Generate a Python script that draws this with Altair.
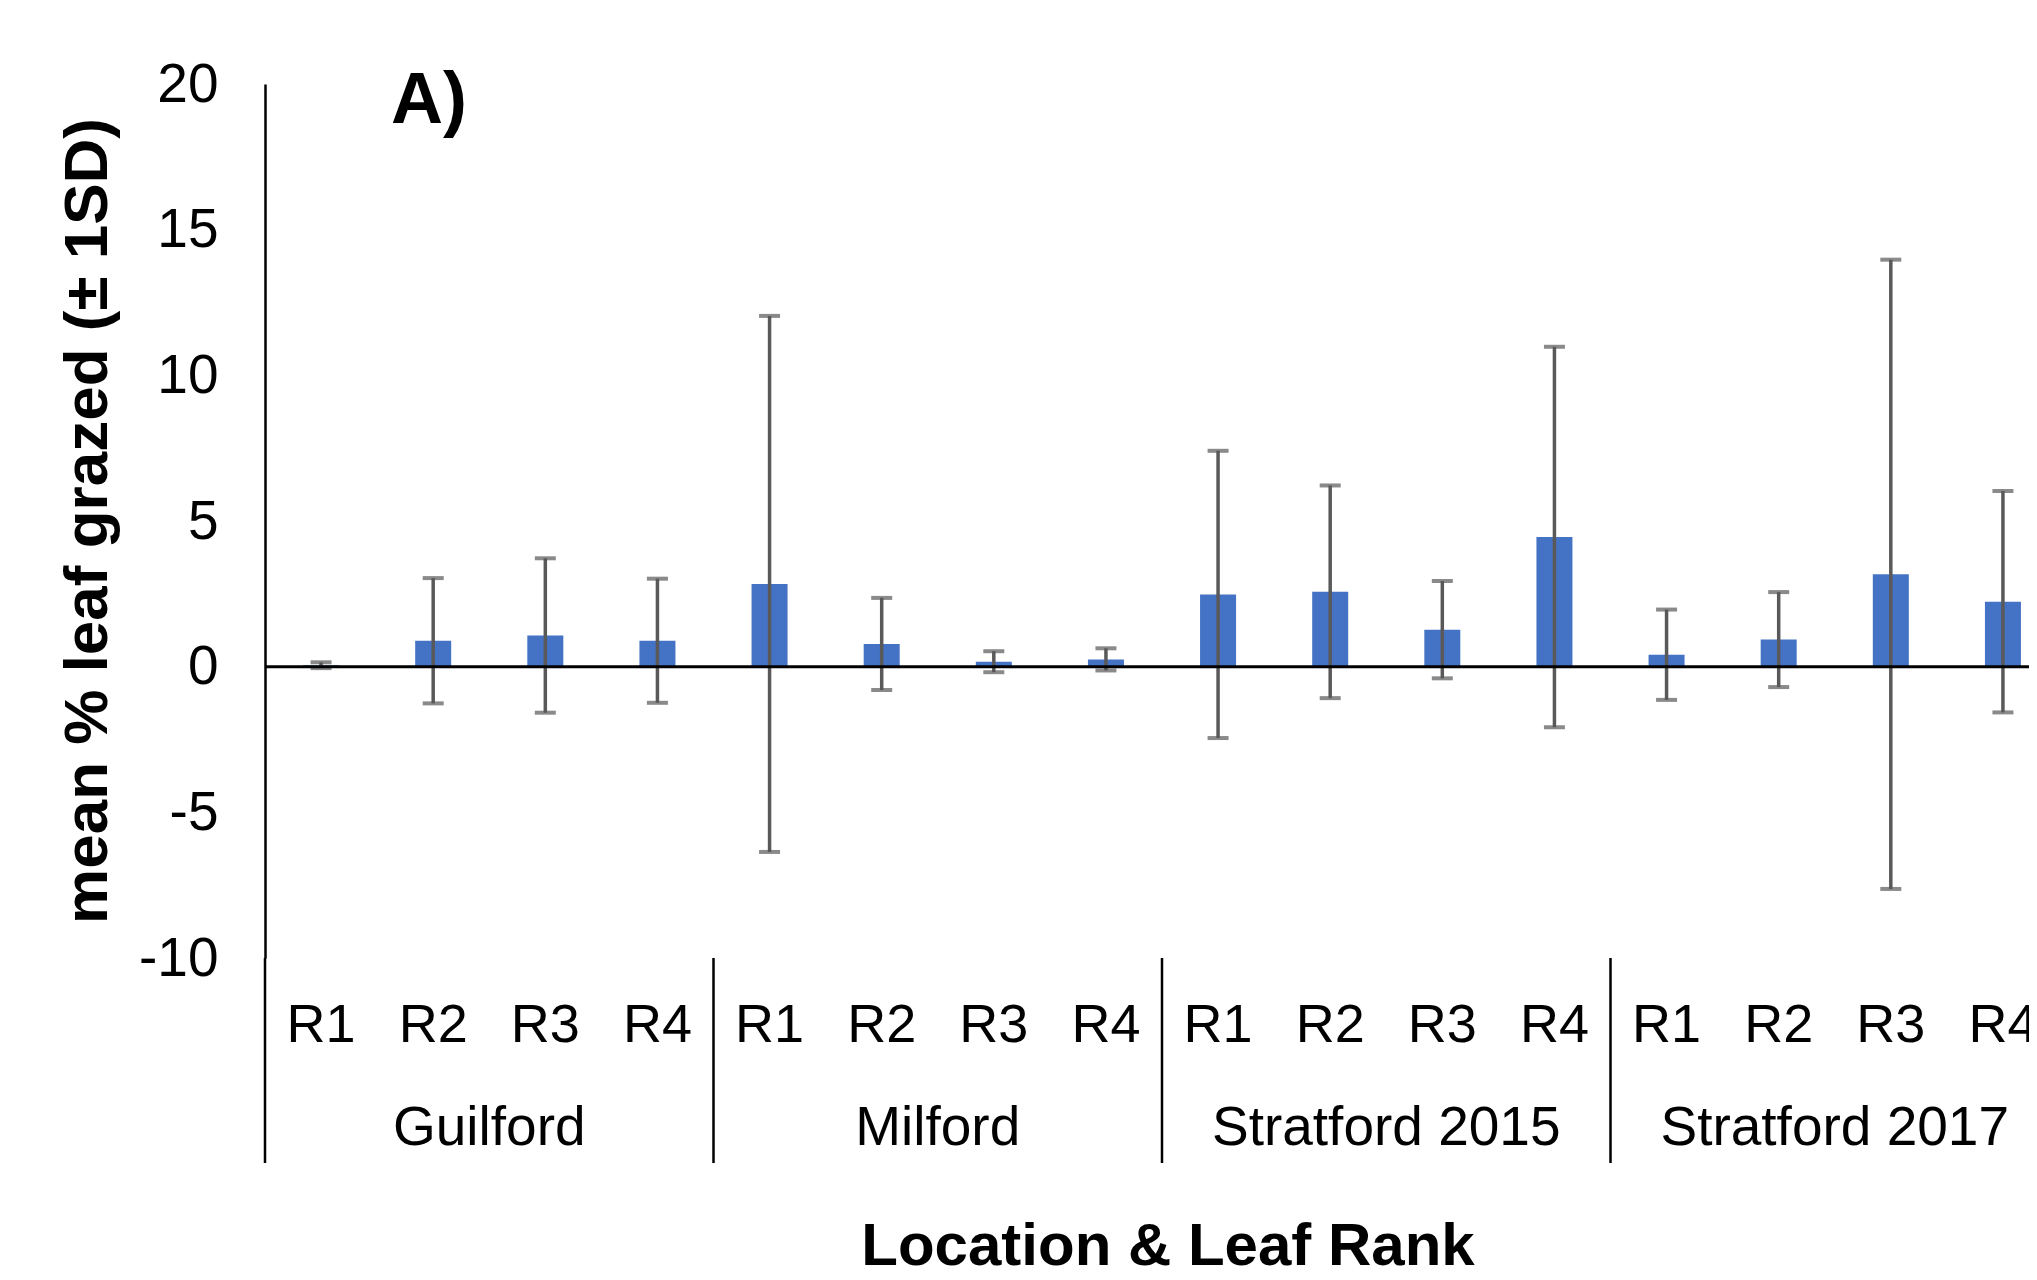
import altair as alt
import pandas as pd

locations = ["Guilford", "Milford", "Stratford 2015", "Stratford 2017"]
ranks = ["R1", "R2", "R3", "R4"]
mean_grazed = [0.05, 0.89, 1.07, 0.89,
               2.84, 0.78, 0.17, 0.25,
               2.48, 2.57, 1.27, 4.45,
               0.41, 0.93, 3.17, 2.23]
sd_grazed = [0.10, 2.15, 2.65, 2.13,
             9.20, 1.58, 0.36, 0.38,
             4.93, 3.65, 1.67, 6.53,
             1.55, 1.63, 10.80, 3.80]
y_ticks = [-10, -5, 0, 5, 10, 15, 20]

rows = []
i = 0
for loc in locations:
    for r in ranks:
        m = mean_grazed[i]
        s = sd_grazed[i]
        rows.append({"cat": f"{loc}|{r}", "loc": loc, "rank": r,
                     "mean": m, "lo": m - s, "hi": m + s})
        i += 1
df = pd.DataFrame(rows)
cats = list(df["cat"])

FONT = "Liberation Sans"
W, H = 1764, 874
FULLW = 1794

xscale = alt.Scale(domain=cats, range=[0, FULLW], paddingInner=0, paddingOuter=0)
yscale = alt.Scale(domain=[-10, 20], nice=False)
yaxis = alt.Axis(values=y_ticks, title=None, grid=False, ticks=False, tickSize=0,
                 domain=True, domainColor="black", domainWidth=2.5,
                 labelFont=FONT, labelFontSize=55, labelColor="black",
                 labelPadding=47, labelFlush=False,
                 labelExpr="toString(datum.value)")


def X(bp):
    return alt.X("cat:N", sort=cats, scale=xscale, axis=None, bandPosition=bp)


def Y(field):
    return alt.Y(field, scale=yscale, axis=yaxis)


base = alt.Chart(df)

bars = base.mark_bar(size=36, color="#4472C4").encode(
    x=X(0.5), y=Y("mean:Q"), y2=alt.datum(0),
)

err = base.mark_rule(color="#595959", strokeWidth=3.5).encode(
    x=X(0.5), y=Y("lo:Q"), y2="hi:Q",
)
cap_hi = base.mark_tick(color="#595959", size=21, thickness=4, orient="horizontal").encode(
    x=X(0.5), y=Y("hi:Q"))
cap_lo = base.mark_tick(color="#595959", size=21, thickness=4, orient="horizontal").encode(
    x=X(0.5), y=Y("lo:Q"))

zero = alt.Chart(pd.DataFrame({"z": [0]})).mark_rule(color="black", strokeWidth=3).encode(
    y=Y("z:Q"), x=alt.value(0), x2=alt.value(FULLW),
)

seps = base.transform_filter(alt.datum.rank == "R1").mark_rule(color="black", strokeWidth=2.5).encode(
    x=X(0), y=alt.value(H), y2=alt.value(1079),
)

rank_lbl = base.mark_text(font=FONT, fontSize=54, color="black", baseline="middle").encode(
    x=X(0.5), y=alt.value(942), text="rank:N",
)

loc_lbl = base.transform_filter(alt.datum.rank == "R3").mark_text(
    font=FONT, fontSize=55, color="black", baseline="middle").encode(
    x=X(0), y=alt.value(1044), text="loc:N",
)

xtitle = alt.Chart(pd.DataFrame({"t": ["Location & Leaf Rank"]})).mark_text(
    font=FONT, fontSize=60, fontWeight="bold", color="black", baseline="middle").encode(
    x=alt.value(903), y=alt.value(1163), text="t:N")

ytitle = alt.Chart(pd.DataFrame({"t": ["mean % leaf grazed (± 1SD)"]})).mark_text(
    font=FONT, fontSize=62, fontWeight="bold", color="black", angle=270,
    align="center", baseline="alphabetic").encode(
    x=alt.value(-158), y=alt.value(437), text="t:N")

panel = alt.Chart(pd.DataFrame({"t": ["A)"]})).mark_text(
    font=FONT, fontSize=72, fontWeight="bold", color="black",
    align="center", baseline="alphabetic").encode(
    x=alt.value(164), y=alt.value(39), text="t:N")

chart = alt.layer(bars, err, cap_hi, cap_lo, zero, seps, rank_lbl, loc_lbl,
                  xtitle, ytitle, panel).properties(
    width=W, height=H,
    autosize=alt.AutoSizeParams(type="none"),
    padding={"left": 257, "top": 76, "right": 0, "bottom": 310},
    background="white",
).configure_view(stroke=None)

chart.save("out.html", embed_options={"renderer": "svg", "actions": False})
